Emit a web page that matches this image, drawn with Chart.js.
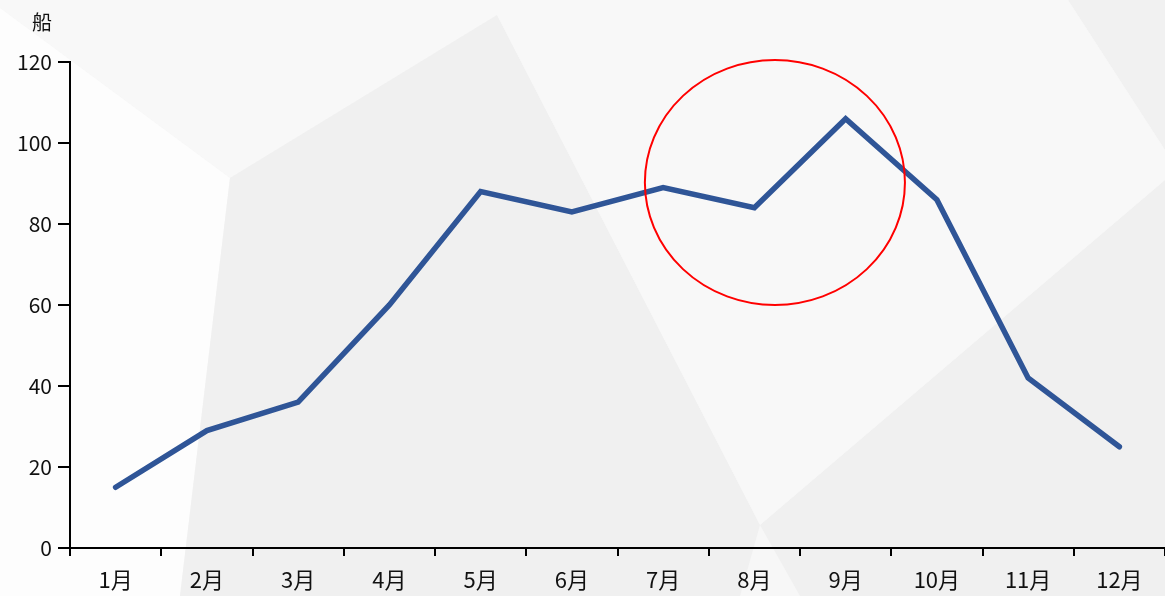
<!DOCTYPE html>
<html>
<head>
<meta charset="utf-8">
<script src="https://cdn.jsdelivr.net/npm/chart.js@4/dist/chart.umd.min.js"></script>
<style>
  html, body { margin: 0; padding: 0; background: #f7f7f7; }
  #wrap { width: 1165px; height: 596px; position: relative; }
</style>
</head>
<body>
<div id="wrap"><canvas id="c" width="1165" height="596"></canvas></div>
<script>
// ---- data ----
const months = ['1月','2月','3月','4月','5月','6月','7月','8月','9月','10月','11月','12月'];
const ships = [15, 29, 36, 60, 88, 83, 89, 84, 106, 86, 42, 25];
const yTicks = [0, 20, 40, 60, 80, 100, 120];
const unitLabel = '船';
// highlight ellipse, in data units (category index / value)
const highlightX = [5.8, 8.65];
const highlightY = [60, 120.5];

const FONT = '"Noto Sans CJK SC", "Noto Sans", sans-serif';

const bgPlugin = {
  id: 'bg',
  beforeDraw(chart) {
    const ctx = chart.ctx;
    const W = chart.width, H = chart.height;
    ctx.save();
    ctx.fillStyle = '#f7f7f7';
    ctx.fillRect(0, 0, W, H);
    const poly = (pts, col) => {
      ctx.beginPath();
      ctx.moveTo(pts[0][0], pts[0][1]);
      for (let i = 1; i < pts.length; i++) ctx.lineTo(pts[i][0], pts[i][1]);
      ctx.closePath();
      ctx.fillStyle = col;
      ctx.fill();
    };
    poly([[0,0],[497,0],[497,15],[230,178],[0,8]], '#f8f8f8');
    poly([[0,8],[230,178],[180,596],[0,596]], '#fdfdfd');
    poly([[497,15],[760,525],[740,596],[180,596],[230,178]], '#f0f0f0');
    poly([[760,525],[1165,180],[1165,596],[800,596]], '#f0f0f0');
    poly([[1068,0],[1165,0],[1165,150]], '#f1f1f1');
    poly([[497,15],[497,0],[1068,0],[1165,150],[1165,180],[760,525]], '#f8f8f8');
    ctx.restore();
  }
};

const overlayPlugin = {
  id: 'overlay',
  afterDatasetsDraw(chart) {
    const ctx = chart.ctx;
    const xs = chart.scales.x, ys = chart.scales.y;
    const x0 = xs.getPixelForValue(highlightX[0]);
    const x1 = xs.getPixelForValue(highlightX[1]);
    const y0 = ys.getPixelForValue(highlightY[0]);
    const y1 = ys.getPixelForValue(highlightY[1]);
    ctx.save();
    ctx.beginPath();
    ctx.ellipse((x0 + x1) / 2, (y0 + y1) / 2, Math.abs(x1 - x0) / 2, Math.abs(y0 - y1) / 2, 0, 0, Math.PI * 2);
    ctx.strokeStyle = '#ff0000';
    ctx.lineWidth = 2;
    ctx.stroke();
    ctx.restore();
  },
  afterDraw(chart) {
    const ctx = chart.ctx;
    ctx.save();
    ctx.fillStyle = '#111';
    ctx.font = '20px ' + FONT;
    ctx.textAlign = 'center';
    ctx.textBaseline = 'middle';
    ctx.fillText(unitLabel, 42, 22);
    ctx.restore();
  }
};

new Chart(document.getElementById('c'), {
  type: 'line',
  data: {
    labels: months,
    datasets: [{
      data: ships,
      borderColor: '#2f5597',
      borderWidth: 5.5,
      borderCapStyle: 'round',
      borderJoinStyle: 'miter',
      pointRadius: 0,
      tension: 0,
      fill: false
    }]
  },
  options: {
    responsive: false,
    animation: false,
    devicePixelRatio: 1,
    layout: { padding: { top: 62, right: 0, left: 0, bottom: 0 } },
    plugins: { legend: { display: false }, tooltip: { enabled: false }, title: { display: false } },
    scales: {
      x: {
        type: 'category',
        offset: true,
        grid: { offset: true, drawOnChartArea: false, drawTicks: true, tickLength: 8, color: '#000', lineWidth: 2 },
        border: { display: true, color: '#000', width: 2 },
        ticks: { color: '#111', font: { family: FONT, size: 22 }, padding: 10, maxRotation: 0, autoSkip: false },
        afterFit(s) { s.height = 48; }
      },
      y: {
        min: 0, max: 120,
        afterBuildTicks(s) { s.ticks = yTicks.map(v => ({ value: v })); },
        grid: { drawOnChartArea: false, drawTicks: true, tickLength: 12, color: '#000', lineWidth: 2 },
        border: { display: true, color: '#000', width: 2 },
        ticks: { color: '#111', font: { family: FONT, size: 21 }, padding: 6 },
        afterFit(s) { s.width = 70; }
      }
    }
  },
  plugins: [bgPlugin, overlayPlugin]
});
</script>
</body>
</html>
